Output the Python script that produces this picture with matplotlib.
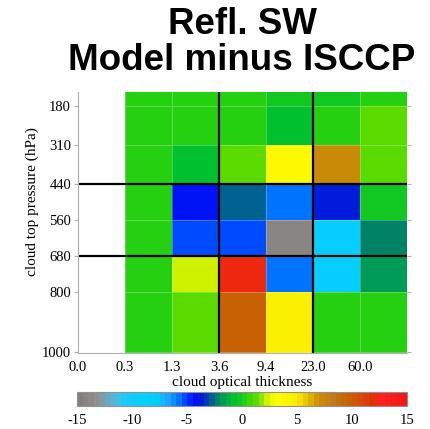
import numpy as np
import matplotlib
matplotlib.use('Agg')
import matplotlib.pyplot as plt
from matplotlib.colors import LinearSegmentedColormap

plt.rcParams['axes.unicode_minus'] = False

# ISCCP bins
tau_labels = ['0.0', '0.3', '1.3', '3.6', '9.4', '23.0', '60.0']
p_edges = [50, 180, 310, 440, 560, 680, 800, 1000]
p_ticks = [180, 310, 440, 560, 680, 800, 1000]
thick_tau = ['3.6', '23.0']
thick_p = [440, 680]

# model minus ISCCP, rows top (50-180) -> bottom (800-1000),
# columns tau 0.3-1.3, 1.3-3.6, 3.6-9.4, 9.4-23, 23-60, >60
row_50 = [0.0, 0.0, 0.0, -0.2, -0.4, 0.0]
row_180 = [0.0, 0.0, 0.0, -0.8, 0.2, 1.4]
row_310 = [0.0, -0.8, 1.2, 3.5, 7.0, 1.2]
row_440 = [0.0, -4.5, -3.0, -6.0, -3.7, -0.1]
row_560 = [0.0, -5.2, -5.2, -14.5, -9.0, -2.2]
row_680 = [0.0, 2.2, 12.0, -5.6, -9.0, -2.0]
row_800 = [0.0, 1.0, 9.5, 4.5, 0.0, 0.0]

cbar_ticks = [-15, -10, -5, 0, 5, 10, 15]

# colour table
nodes = [
    (-15, '#827e7a'), (-13.5, '#909090'), (-12.5, '#70a8b8'),
    (-11.5, '#40c0e8'), (-10.5, '#10ccff'), (-8, '#00d0ff'),
    (-7, '#20a8ff'), (-6, '#0080ff'), (-5.2, '#0040ff'),
    (-4.5, '#0010ff'), (-3.6, '#0020d0'), (-3, '#0055a0'),
    (-2.2, '#008860'), (-1.8, '#009a58'), (-1.3, '#00b040'),
    (-0.8, '#00c030'), (0, '#18cc18'), (0.8, '#40d800'), (1.5, '#66dd00'),
    (2.2, '#c8f000'), (3, '#ffff00'), (5, '#f8f000'),
    (6, '#e8c000'), (7, '#cc9000'), (8.5, '#c07820'),
    (9.5, '#c06a00'), (11, '#d84810'), (12, '#e03000'),
    (13, '#ff2020'), (15, '#f01818'),
]
cmap = LinearSegmentedColormap.from_list(
    'isccp', [((v + 15) / 30.0, c) for v, c in nodes], N=60)

diff = np.array([row_50, row_180, row_310, row_440, row_560, row_680, row_800])

fig = plt.figure(figsize=(4.30, 4.29), dpi=100)
ax = fig.add_axes([78 / 430, 1 - 353 / 429, 329 / 430, 261 / 429])

x_edges = np.arange(1, len(tau_labels) + 1)
mesh = ax.pcolormesh(x_edges, p_edges, diff, cmap=cmap, vmin=-15, vmax=15,
                     edgecolors=(1, 1, 1, 0.25), linewidth=0.6)

for p in thick_p:
    ax.axhline(p, color='k', lw=1.6)
for t in thick_tau:
    ax.axvline(tau_labels.index(t), color='k', lw=1.6)

ax.set_xlim(0, len(tau_labels))
ax.set_ylim(1005, 132)
ax.set_xticks(range(len(tau_labels)))
ax.set_xticklabels(tau_labels)
ax.set_yticks(p_ticks)
ax.set_yticklabels([str(p) for p in p_ticks])

serif = ['Liberation Serif', 'DejaVu Serif']
for lab in ax.get_xticklabels() + ax.get_yticklabels():
    lab.set_family(serif)
    lab.set_fontsize(10.5)
ax.tick_params(axis='x', length=0, pad=6)
ax.tick_params(axis='y', length=3, color='#b0b0b0', pad=2, right=True)
ax.set_xlabel('cloud optical thickness', family=serif, fontsize=11, labelpad=1)
ax.set_ylabel('cloud top pressure (hPa)', family=serif, fontsize=11)
ax.yaxis.set_label_coords(-0.12, 0.58)

for s in ['top', 'right']:
    ax.spines[s].set_visible(False)
for s in ['left', 'bottom']:
    ax.spines[s].set_color('#b0b0b0')

fig.text(242 / 430, 1 - 7 / 429, 'Refl. SW\nModel minus ISCCP', ha='center', va='top',
         fontsize=26.5, fontweight='bold', family=['Liberation Sans', 'DejaVu Sans'],
         linespacing=1.03)

cax = fig.add_axes([77 / 430, 1 - 406 / 429, 330 / 430, 14 / 429])
cb = fig.colorbar(mesh, cax=cax, orientation='horizontal', ticks=cbar_ticks)
cb.outline.set_edgecolor('#909090')
cb.ax.tick_params(length=0, pad=6)
for lab in cb.ax.get_xticklabels():
    lab.set_family(serif)
    lab.set_fontsize(10.5)

fig.savefig('out.png', dpi=100)
